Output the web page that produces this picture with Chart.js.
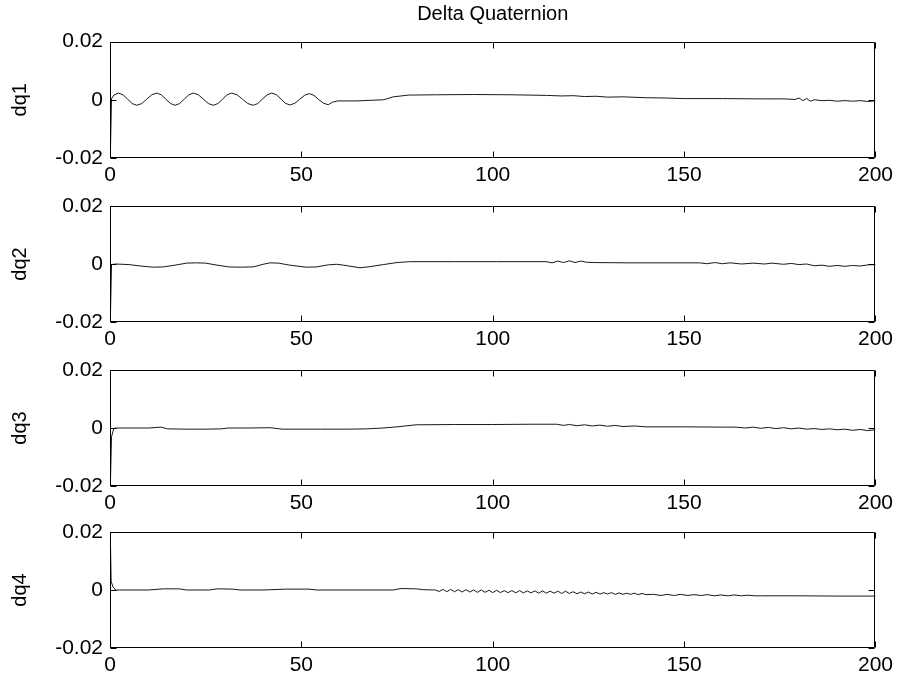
<!DOCTYPE html>
<html><head><meta charset="utf-8">
<script src="https://cdn.jsdelivr.net/npm/chart.js@4.4.1/dist/chart.umd.min.js"></script>
<style>
html,body{margin:0;padding:0;background:#fff;width:898px;height:684px;overflow:hidden;}
.w{position:absolute;left:0;width:898px;}
canvas{display:block;}
</style></head><body>
<div class="w" id="w0"><canvas id="c0"></canvas></div>
<div class="w" id="w1"><canvas id="c1"></canvas></div>
<div class="w" id="w2"><canvas id="c2"></canvas></div>
<div class="w" id="w3"><canvas id="c3"></canvas></div>
<script>
// ---- data ----
const titleText = 'Delta Quaternion';
const seriesNames = ['dq1', 'dq2', 'dq3', 'dq4'];
const xTicks = [0, 50, 100, 150, 200];
const yTicks = [-0.02, 0, 0.02];
const yTickLabels = ['-0.02', '0', '0.02'];

const t1 = [0,0.4,1,2.2,3.4,4.6,5.8,7,8.3,9.6,10.9,12.2,13.4,14.6,15.8,17,18.2,19.4,20.6,21.8,23.1,24.4,25.7,27,28.2,29.4,30.6,31.8,33.2,34.6,36,37.4,38.6,39.8,41.1,42.3,43.5,44.7,45.8,47,48.3,49.6,50.9,52.1,53.3,54.5,55.8,57,58.2,59.5,62,64.5,68,71.5,74,78,85,95,105,114,118,121,124,127,130,134,140,145,150,160,170,176,179,180,181,182,183,184,186,188,190,192,194,196,198,200];
const dq1 = [-0.025,0.0004,0.0016,0.0023,0.0017,0.0002,-0.0013,-0.0019,-0.0013,0.0002,0.0017,0.0023,0.0017,0.0002,-0.0013,-0.0019,-0.0013,0.0002,0.0017,0.0023,0.0017,0.0002,-0.0013,-0.0019,-0.0013,0.0002,0.0017,0.0023,0.0017,0.0002,-0.0013,-0.0019,-0.0013,0.0002,0.0017,0.0023,0.0017,0.0002,-0.0012,-0.0018,-0.0012,0.0002,0.0016,0.0021,0.0015,0.0001,-0.0012,-0.0017,-0.0008,-0.0004,-0.0004,-0.0004,-0.0002,0.0000,0.0010,0.0016,0.0017,0.0018,0.0017,0.0015,0.0013,0.0014,0.0011,0.0012,0.0009,0.0010,0.0007,0.0006,0.0004,0.0004,0.0003,0.0003,0.0001,0.0006,-0.0003,0.0004,-0.0005,0.0000,-0.0003,-0.0002,-0.0005,-0.0003,-0.0005,-0.0003,-0.0006,-0.0004];

const t2 = [0,0.4,1.5,5,8,11.3,14,17,20,22.6,25,28,31,34,37.4,40,41.8,44,47,51.3,54,57,59.2,61,65.3,68,71.4,75,78.3,90,101,114,115.5,117,118.5,120,121.5,123,124.5,126.5,135,145,154,156,158,160,162,165,168,171,173,176,178,180,182,184,186,188,190,192,194,196,198,200];
const dq2 = [-0.025,-0.0002,0.0000,-0.0002,-0.0007,-0.0011,-0.0010,-0.0004,0.0003,0.0004,0.0003,-0.0004,-0.0010,-0.0011,-0.0010,-0.0001,0.0004,0.0003,-0.0004,-0.0011,-0.0010,-0.0003,-0.0001,-0.0004,-0.0013,-0.0009,-0.0002,0.0005,0.0008,0.0008,0.0008,0.0008,0.0004,0.0010,0.0005,0.0011,0.0005,0.0010,0.0006,0.0005,0.0004,0.0004,0.0004,0.0001,0.0005,0.0001,0.0004,0.0000,0.0003,0.0000,0.0003,-0.0001,0.0002,-0.0002,0.0000,-0.0006,-0.0004,-0.0008,-0.0005,-0.0008,-0.0005,-0.0007,-0.0003,-0.0002];

const t3 = [0,0.4,1,1.5,10,13.4,15,20,25,29,31,36,41.8,45,55,62,67,71.4,75,80,90,100,110,116.7,118.5,120,122,124,126,128,130,132,134,137,140,150,160,163.5,166,168,170,172,174,176,178,180,182,184,186,188,190,192,194,196,198,200];
const dq3 = [-0.025,-0.003,-0.0002,0.0000,0.0000,0.0003,-0.0003,-0.0004,-0.0004,-0.0003,0.0000,0.0000,0.0001,-0.0004,-0.0004,-0.0004,-0.0003,0.0000,0.0004,0.0011,0.0012,0.0012,0.0013,0.0013,0.0009,0.0012,0.0008,0.0011,0.0007,0.0010,0.0006,0.0009,0.0005,0.0007,0.0004,0.0004,0.0003,0.0003,0.0000,0.0003,-0.0001,0.0002,-0.0002,0.0001,-0.0003,0.0000,-0.0004,-0.0002,-0.0005,-0.0003,-0.0006,-0.0004,-0.0008,-0.0005,-0.0009,-0.0006];

const t4 = [0,0.3,0.8,1.5,10,14,18,20,26,28,32,34,40,46,52,54,64,74,76,80,82,85,
  86,87,88,89,90,91,92,93,94,95,96,97,98,99,100,
  101,102,103,104,105,106,107,108,109,110,111,112,113,114,115,116,117,118,119,120,
  121,122,123,124,125,126,127,128,129,130,131,132,133,134,135,136,137,138,139,140,
  142,144,145.5,147.5,149,151,152.5,154.5,156,158,159.5,161.5,163,165,166.5,168.5,170,180,190,200];
const dq4 = [0.025,0.0030,0.0010,0.0000,0.0000,0.0004,0.0004,0.0000,0.0000,0.0004,0.0003,0.0000,0.0000,0.0003,0.0003,0.0000,0.0000,0.0000,0.0005,0.0004,0.0001,0.0000,
  -0.0005,0.0002,-0.0006,0.0002,-0.0006,0.0001,-0.0007,0.0001,-0.0007,0.0000,-0.0008,0.0000,-0.0008,-0.0001,-0.0009,
  -0.0001,-0.0009,-0.0002,-0.0009,-0.0002,-0.0010,-0.0002,-0.0010,-0.0003,-0.0010,-0.0003,-0.0011,-0.0003,-0.0011,-0.0004,-0.0011,-0.0004,-0.0012,-0.0004,-0.0012,
  -0.0006,-0.0013,-0.0007,-0.0013,-0.0007,-0.0014,-0.0008,-0.0014,-0.0009,-0.0014,-0.0009,-0.0015,-0.0010,-0.0015,-0.0011,-0.0015,-0.0011,-0.0016,-0.0012,-0.0016,
  -0.0015,-0.0019,-0.0015,-0.0019,-0.0015,-0.0019,-0.0016,-0.0019,-0.0016,-0.0020,-0.0017,-0.0020,-0.0017,-0.0020,-0.0018,-0.0020,-0.0020,-0.0020,-0.0021,-0.0021];

const times = [t1, t2, t3, t4];
const values = [dq1, dq2, dq3, dq4];

// ---- layout ----
const PLOT_TOPS = [41.5, 206, 369.5, 532];
const PLOT_H = 116;
const PLOT_LEFT = 110;
const PLOT_RIGHT = 877;
const PAD_TOP = 30;
const X_AXIS_H = 40;
const FONT = 'Arial, "Liberation Sans", Helvetica, sans-serif';
const TICK_SIZE = 21;

const framePlugin = {
  id: 'frame',
  afterDatasetsDraw(chart) {
    const {ctx, chartArea: a, scales: {x, y}} = chart;
    const L = Math.round(a.left) + 0.5, R = Math.round(a.right) - 0.5;
    const T = Math.round(a.top) + 0.5, B = Math.round(a.bottom) - 0.5;
    ctx.save();
    ctx.strokeStyle = '#000';
    ctx.lineWidth = 1;
    ctx.beginPath();
    ctx.rect(L, T, R - L, B - T);
    const tl = 6;
    x.ticks.forEach(tk => {
      const px = Math.round(x.getPixelForValue(tk.value)) + 0.5;
      ctx.moveTo(px, B); ctx.lineTo(px, B - tl);
      ctx.moveTo(px, T); ctx.lineTo(px, T + tl);
    });
    y.ticks.forEach(tk => {
      const py = Math.round(y.getPixelForValue(tk.value)) + 0.5;
      ctx.moveTo(L, py); ctx.lineTo(L + tl, py);
      ctx.moveTo(R, py); ctx.lineTo(R - tl, py);
    });
    ctx.stroke();
    ctx.restore();
  }
};

function makeChart(i) {
  const first = i === 0;
  const wrapTop = first ? 0 : PLOT_TOPS[i] - PAD_TOP;
  const topOffset = PLOT_TOPS[i] - wrapTop;
  const h = Math.ceil(topOffset + PLOT_H + X_AXIS_H);
  const wrap = document.getElementById('w' + i);
  wrap.style.top = wrapTop + 'px';
  wrap.style.height = h + 'px';
  const cv = document.getElementById('c' + i);
  cv.width = 898; cv.height = h;
  cv.style.width = '898px'; cv.style.height = h + 'px';

  const pts = times[i].map((t, k) => ({x: t, y: values[i][k]}));
  const titleFontSize = 20;
  const titleLH = titleFontSize * 1.2;

  return new Chart(cv, {
    type: 'line',
    data: {datasets: [{
      label: seriesNames[i],
      data: pts,
      borderColor: '#1a1a1a',
      borderWidth: 1,
      pointRadius: 0,
      tension: 0,
      fill: false
    }]},
    options: {
      responsive: false,
      animation: false,
      devicePixelRatio: 1,
      layout: {padding: {top: first ? 0 : topOffset, right: 898 - PLOT_RIGHT, bottom: 0, left: 0}},
      plugins: {
        legend: {display: false},
        tooltip: {enabled: false},
        title: {
          display: first,
          text: titleText,
          fullSize: false,
          color: '#000',
          font: {family: FONT, size: titleFontSize, weight: 'normal', lineHeight: 1.2},
          padding: {top: 2, bottom: PLOT_TOPS[0] - 2 - titleLH}
        }
      },
      scales: {
        x: {
          type: 'linear',
          min: 0, max: 200,
          afterBuildTicks: s => { s.ticks = xTicks.map(v => ({value: v})); },
          afterFit: s => { s.height = X_AXIS_H; },
          grid: {display: false, drawTicks: false},
          border: {display: false},
          ticks: {
            color: '#000', padding: 5, maxRotation: 0,
            font: {family: FONT, size: TICK_SIZE},
            callback: v => String(v)
          }
        },
        y: {
          type: 'linear',
          min: -0.02, max: 0.02,
          afterBuildTicks: s => { s.ticks = yTicks.map(v => ({value: v})); },
          afterFit: s => { s.width = PLOT_LEFT; },
          grid: {display: false, drawTicks: false},
          border: {display: false},
          ticks: {
            color: '#000', padding: 7,
            font: {family: FONT, size: TICK_SIZE},
            callback: v => yTickLabels[yTicks.findIndex(t => Math.abs(t - v) < 1e-9)]
          },
          title: {
            display: true,
            text: seriesNames[i],
            color: '#000',
            font: {family: FONT, size: 20, lineHeight: 1.2},
            padding: {top: 8, bottom: 0}
          }
        }
      }
    },
    plugins: [framePlugin]
  });
}

[0, 1, 2, 3].forEach(makeChart);
</script>
</body></html>
